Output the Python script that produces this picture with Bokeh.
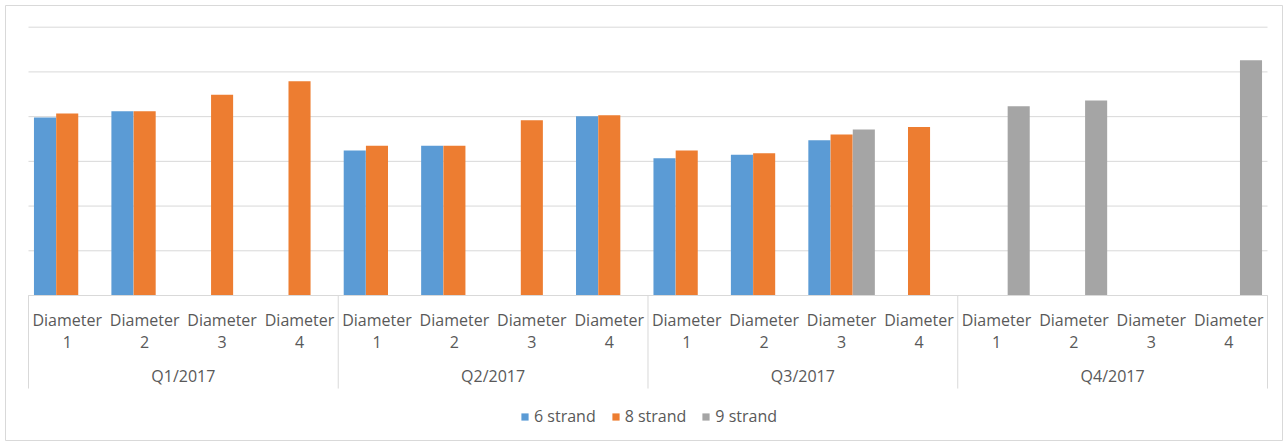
import math
from bokeh.plotting import figure
from bokeh.models import Range1d, ColumnDataSource, Legend, LegendItem
from bokeh.core.properties import value
from bokeh.embed import file_html
from bokeh.resources import INLINE

# ---- data ----
quarters = ["Q1/2017", "Q2/2017", "Q3/2017", "Q4/2017"]
diameters = ["Diameter 1", "Diameter 2", "Diameter 3", "Diameter 4"]
series_names = ["6 strand", "8 strand", "9 strand"]
strand6 = [3.98, 4.12, None, None, 3.24, 3.35, None, 4.01, 3.07, 3.15, 3.47, None, None, None, None, None]
strand8 = [4.07, 4.12, 4.49, 4.79, 3.35, 3.35, 3.92, 4.03, 3.24, 3.18, 3.60, 3.77, None, None, None, None]
strand9 = [None, None, None, None, None, None, None, None, None, None, 3.71, None, 4.23, 4.36, None, 5.26]
grid_values = [0, 1, 2, 3, 4, 5, 6]
colors = ["#5B9BD5", "#ED7D31", "#A5A5A5"]

FONT = "Open Sans"
TXT = "#595959"
LINE = "#D9D9D9"

n_cat = len(quarters) * len(diameters)
bar_w = 0.285
offsets = [-0.287, 0.0, 0.287]

p = figure(width=1287, height=444, output_backend="svg", toolbar_location=None,
           x_range=Range1d(-0.297, n_cat + 0.1937), y_range=Range1d(-3.242, 6.485),
           min_border_left=5, min_border_right=5, min_border_top=5, min_border_bottom=4,
           x_axis_location=None, y_axis_location=None)
p.grid.visible = False
p.outline_line_color = LINE
p.outline_line_width = 1
p.background_fill_color = "white"
p.border_fill_color = "white"

# gridlines
p.segment(x0=[0] * len(grid_values), x1=[n_cat] * len(grid_values),
          y0=grid_values, y1=grid_values, line_color=LINE, line_width=1)

# bars
legend_items = []
for vals, name, col, off in zip([strand6, strand8, strand9], series_names, colors, offsets):
    xs = [i + 0.5 + off for i, v in enumerate(vals) if v is not None]
    ys = [v for v in vals if v is not None]
    src = ColumnDataSource(dict(x=xs, top=ys))
    r = p.vbar(x="x", top="top", bottom=0, width=bar_w, source=src,
               fill_color=col, line_color=None)
    legend_items.append(LegendItem(label=name, renderers=[r]))

# axis base line and group separators
p.segment(x0=[0], x1=[n_cat], y0=[0], y1=[0], line_color=LINE, line_width=1)
sep_x = [q * len(diameters) for q in range(len(quarters) + 1)]
p.segment(x0=sep_x, x1=sep_x, y0=[0] * len(sep_x), y1=[-2.08] * len(sep_x),
          line_color=LINE, line_width=1)

# category labels (two lines: word and number)
cat_x = [i + 0.5 for i in range(n_cat)]
words = [diameters[i % len(diameters)].split(" ")[0] for i in range(n_cat)]
nums = [diameters[i % len(diameters)].split(" ")[1] for i in range(n_cat)]
common = dict(text_align="center", text_baseline="middle", text_font=value(FONT),
              text_font_size="16px", text_color=TXT)
p.text(x=cat_x, y=[-0.543] * n_cat, text=words, **common)
p.text(x=cat_x, y=[-1.029] * n_cat, text=nums, **common)

# group labels
grp_x = [q * len(diameters) + len(diameters) / 2 for q in range(len(quarters))]
p.text(x=grp_x, y=[-1.81] * len(quarters), text=quarters, **common)

legend = Legend(items=legend_items, orientation="horizontal", location=(515, 13),
                glyph_width=9, glyph_height=9, label_standoff=5, spacing=15,
                padding=0, margin=0, border_line_color=None, background_fill_alpha=0,
                label_text_font=FONT, label_text_font_size="16px", label_text_color=TXT)
p.add_layout(legend, "center")

open("out.html", "w").write(file_html(p, INLINE))
